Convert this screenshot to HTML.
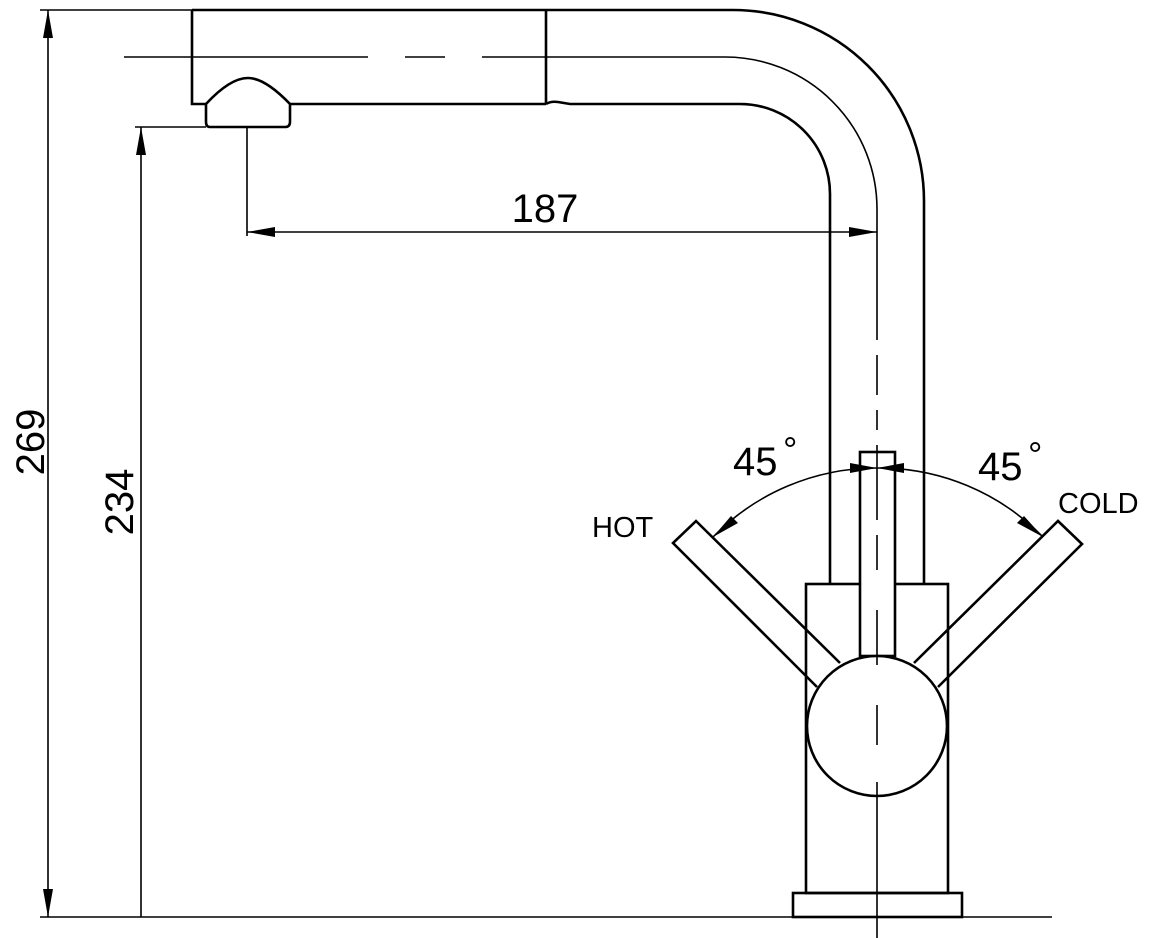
<!DOCTYPE html>
<html><head><style>body{margin:0;background:#fff}svg{display:block}text{font-family:"Liberation Sans",sans-serif;fill:#000}</style></head>
<body>
<svg width="1156" height="938" viewBox="0 0 1156 938" xmlns="http://www.w3.org/2000/svg">
<g fill="none" stroke="#000" stroke-width="2.6">
<path d="M192 10 H733 A191 191 0 0 1 924 201 V584"/>
<path d="M192 10 V104 H206"/>
<path d="M290 104 H546 M546 10 V104"/>
<path d="M546 104 q5 -3 12 -2 q6 1 12 2 H740 A90 90 0 0 1 830 194 V584"/>
<path d="M206 104 Q230 78 248 78 Q265 78 290 104 V122 Q290 127 285 127 H210 Q206 127 206 122 Z"/>
<rect x="806" y="584" width="142" height="309"/>
<rect x="793" y="893" width="169" height="24"/>
<rect x="860" y="452" width="35" height="204" fill="#fff"/>
<circle cx="877" cy="726" r="70" fill="#fff"/>
<path d="M817 687 L673 543 L696 521 L840 663"/>
<path d="M938 687 L1082 544 L1058 521 L914 663"/>
</g>
<g fill="none" stroke="#000" stroke-width="1.6">
<path d="M124 57 H368 M405 57 H445 M482 57 H725 A152 152 0 0 1 877 209 V340"/>
<path d="M877 355 V395 M877 410 V430 M877 445 V520 M877 535 V570 M877 610 V665 M877 705 V745 M877 782 V938"/>
<path d="M40 10 H192 M48 10 V917 M40 917 H1052"/>
<path d="M135 127 H206 M141 127 V917"/>
<path d="M247 127 V236 M247 232 H877"/>
<path d="M713 537 A229 229 0 0 1 877 468 A229 229 0 0 1 1043 537"/>
</g>
<g fill="#000">
<polygon points="48,10 43,38 53,38"/>
<polygon points="48,917 43,889 53,889"/>
<polygon points="141,127 136,155 146,155"/>
<polygon points="247,232 275,227 275,237"/>
<polygon points="877,232 849,227 849,237"/>
<polygon points="877,468 850,463 850,473"/>
<polygon points="877,468 904,463 904,473"/>
<polygon points="713,537 731,516 738,523"/>
<polygon points="1043,537 1024,516 1017,523"/>
</g>
<text x="545" y="222" font-size="40" text-anchor="middle">187</text>
<text transform="translate(44,442) rotate(-90)" font-size="40" text-anchor="middle">269</text>
<text transform="translate(133,502) rotate(-90)" font-size="40" text-anchor="middle">234</text>
<text x="733" y="475" font-size="40">45</text>
<text x="783" y="462" font-size="36">°</text>
<text x="978" y="480" font-size="40">45</text>
<text x="1028" y="467" font-size="36">°</text>
<text x="592" y="537" font-size="29">HOT</text>
<text x="1058" y="513" font-size="29">COLD</text>
</svg>
</body></html>
